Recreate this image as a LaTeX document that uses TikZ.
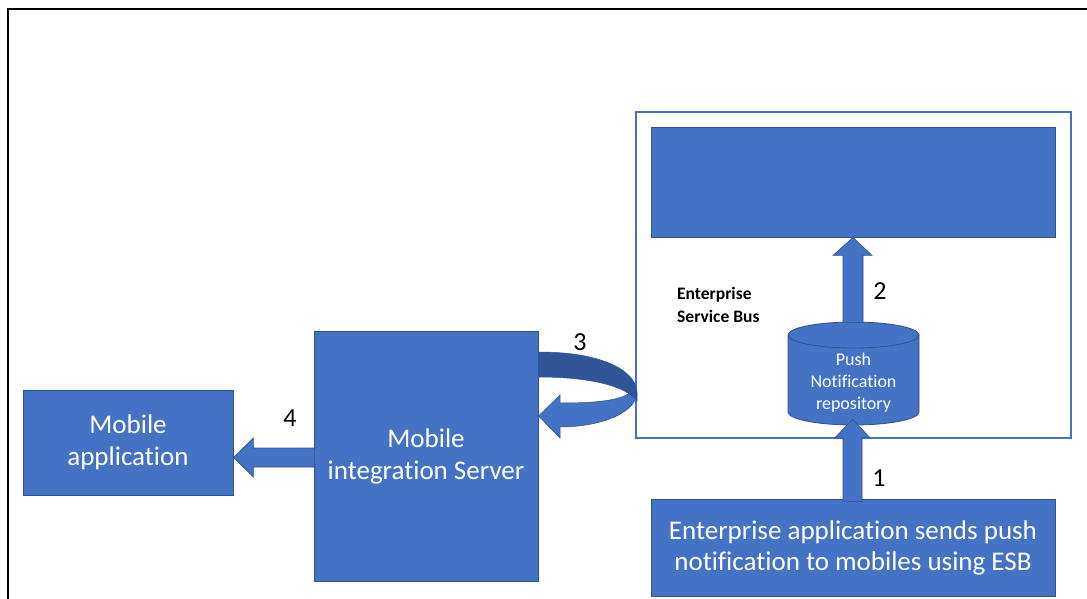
\documentclass[tikz,border=0pt]{standalone}
\usepackage{fontspec}
\setmainfont{Carlito}[Ligatures=NoCommon]
\usetikzlibrary{calc}
\definecolor{ofblue}{HTML}{4472C4}
\definecolor{ofedge}{HTML}{2F528F}
\definecolor{ofdark}{HTML}{2F5597}
\tikzset{
  boxnode/.style={fill=ofblue, draw=ofedge, line width=0.8pt, text=white, align=center, inner sep=0pt, font=\fontsize{27}{32}\selectfont},
  blockarrow/.style={fill=ofblue, draw=ofedge, line width=0.6pt},
  numlabel/.style={font=\fontsize{26}{28}\selectfont, text=black, inner sep=0pt},
}
\begin{document}
\begin{tikzpicture}[x=1pt,y=1pt]
\useasboundingbox (0,0) rectangle (1087,-599);
% outer frame (cut at right and bottom)
\draw[line width=2.5pt, black] (8,-610) -- (8,-9) -- (1100,-9);

% ESB container
\node[draw=ofblue, line width=1.4pt, fill=white, minimum width=435, minimum height=326, inner sep=0pt] (esb) at (853.5,-275) {};
\node[boxnode, minimum width=404, minimum height=110] (top) at (853,-182) {};
\node[font=\bfseries\fontsize{17.5}{23}\selectfont, align=left, anchor=west, inner sep=0pt] (esblabel) at (677,-305) {Enterprise\\Service Bus};

% boxes
\node[boxnode, minimum width=210, minimum height=105] (mobapp) at (128,-442.5) {Mobile\\application};
\node[boxnode, minimum width=224, minimum height=250] (mis) at (426,-456) {Mobile\\integration Server};
\node[boxnode, font=\fontsize{27}{31}\selectfont, minimum width=404, minimum height=97] (ent) at (853,-547.5) {Enterprise application sends push\\notification to mobiles using ESB};

% cylinder
\fill[ofblue] (788,-335) -- (788,-412) arc[start angle=180,end angle=360,x radius=65.5,y radius=13] -- (919,-335) arc[start angle=0,end angle=180,x radius=65.5,y radius=13] -- cycle;
\draw[ofedge, line width=0.8pt] (788,-335) -- (788,-412) arc[start angle=180,end angle=360,x radius=65.5,y radius=13] -- (919,-335) arc[start angle=0,end angle=180,x radius=65.5,y radius=13] -- cycle;
\draw[ofedge, line width=0.8pt] (788,-335) arc[start angle=180,end angle=360,x radius=65.5,y radius=13];
\node[text=white, align=center, inner sep=0pt, font=\fontsize{18}{22}\selectfont, minimum width=131, minimum height=103] (cyl) at (853.5,-383) {Push\\Notification\\repository};

% arrow 1: ent -> cyl
\draw[blockarrow] ($(ent.north)+(-10,-3)$) -- ($(ent.north)+(-10,61)$) -- ($(ent.north)+(-18,61)$) -- ($(ent.north)+(-0.5,79)$) -- ($(ent.north)+(17,61)$) -- ($(ent.north)+(9,61)$) -- ($(ent.north)+(9,-3)$) -- cycle;
% arrow 2: cyl -> top
\draw[blockarrow] ($(top.south)+(-10,-85)$) -- ($(top.south)+(-10,-18)$) -- ($(top.south)+(-20,-18)$) -- (top.south) -- ($(top.south)+(19,-18)$) -- ($(top.south)+(10,-18)$) -- ($(top.south)+(10,-85)$) -- cycle;
% arrow 4: mis -> mobapp
\draw[blockarrow] ($(mis.west)+(1,8)$) -- ($(mobapp.east)+(20,-5.5)$) -- ($(mobapp.east)+(20,4.5)$) -- ($(mobapp.east)+(0,-15)$) -- ($(mobapp.east)+(20,-34.5)$) -- ($(mobapp.east)+(20,-24.5)$) -- ($(mis.west)+(1,-11)$) -- cycle;

% arrow 3: curved arrow from mis around esb edge back to mis
\draw[fill=ofblue, draw=ofedge, line width=0.5pt] (637,-392) .. controls (637,-413) and (600,-427) .. (560,-427) -- (560,-438) -- (538.5,-416) -- (560,-395) -- (560,-403) .. controls (600,-403) and (626,-400) .. (634,-389) -- cycle;
\draw[fill=ofdark, draw=ofdark, line width=0.5pt] (538.5,-352) .. controls (605,-352) and (637,-372) .. (637,-393) -- (637,-401) .. controls (626,-386) and (590,-377) .. (538.5,-377) -- cycle;

% labels
\node[numlabel] (l1) at (879,-478) {1};
\node[numlabel] (l2) at (880,-291) {2};
\node[numlabel] (l3) at (580,-342) {3};
\node[numlabel] (l4) at (290,-418) {4};
\end{tikzpicture}
\end{document}
